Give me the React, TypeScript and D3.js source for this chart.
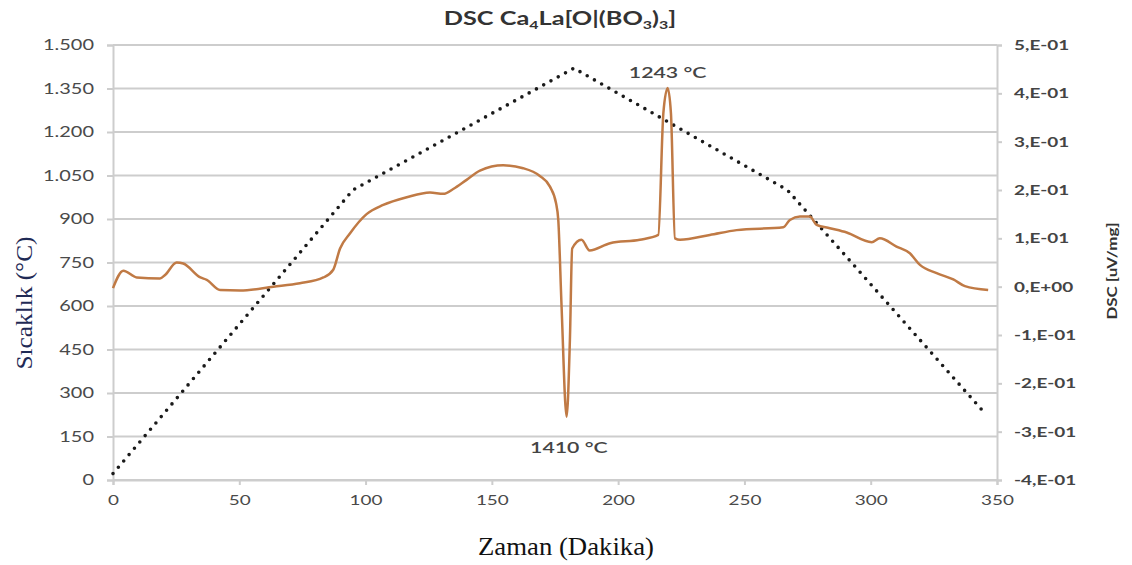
import React, { useEffect, useRef } from "react";
import * as d3 from "d3";

// time (min) and DSC signal (uV/mg)
const dscTime = [
  0, 4.1, 9.4, 18.6, 20.6, 25.2, 27.8, 34.6, 37.1, 42.4, 50.3, 63.5, 74, 83.3,
  87.2, 89.9, 93.8, 100.4, 107, 116.3, 125.5, 130.8, 134.7, 140, 145.3, 154.5,
  162.4, 169, 173, 175.4, 176.3, 177.6, 179.6, 180.9, 181.8, 185.5, 188.7,
  196.8, 208.6, 215.9, 217.9, 219.6, 220.9, 222.5, 224.5, 236.3, 246.9, 265.4,
  268, 272, 275.9, 278.6, 283.8, 290.5, 300.4, 303.6, 310.2, 315.5, 319.5,
  326.1, 332.7, 337.3, 346.5
];
const dscValue = [
  -0.003, 0.033, 0.019, 0.017, 0.024, 0.05, 0.048, 0.019, 0.014, -0.007, -0.008,
  0.0, 0.007, 0.019, 0.035, 0.079, 0.11, 0.15, 0.169, 0.185, 0.195, 0.192,
  0.202, 0.221, 0.24, 0.251, 0.245, 0.229, 0.207, 0.173, 0.138, -0.041, -0.269,
  -0.11, 0.079, 0.097, 0.075, 0.09, 0.097, 0.107, 0.359, 0.411, 0.359, 0.1,
  0.097, 0.107, 0.117, 0.123, 0.138, 0.145, 0.145, 0.128, 0.121, 0.112, 0.092,
  0.1, 0.083, 0.069, 0.045, 0.028, 0.015, 0.001, -0.007
];

// temperature program (dotted)
const tempTime = [0, 95, 182.5, 267, 345];
const tempValue = [22, 1000, 1420, 1000, 232];

const timeTicks = [0, 50, 100, 150, 200, 250, 300, 350];
const tempTicks = [0, 150, 300, 450, 600, 750, 900, 1050, 1200, 1350, 1500];
const dscTicks = [-0.4, -0.3, -0.2, -0.1, 0, 0.1, 0.2, 0.3, 0.4, 0.5];
const dscTickLabels = [
  "-4,E-01", "-3,E-01", "-2,E-01", "-1,E-01", "0,E+00",
  "1,E-01", "2,E-01", "3,E-01", "4,E-01", "5,E-01"
];

const peaks = [
  { label: "1243 °C", t: 219.6, v: 0.411, dy: -10 },
  { label: "1410 °C", t: 180.5, v: -0.269, dy: 36 }
];

const W = 1132;
const H = 565;
const margin = { left: 113, right: 135, top: 45, bottom: 85 };
const sans = "Lato, 'Open Sans', sans-serif";
const serif = "'Liberation Serif', 'DejaVu Serif', serif";

// the source picture is stretched sideways, so widen the glyphs
function stretch(sel: any, k: number) {
  sel.each(function (this: SVGTextElement) {
    const w = this.getComputedTextLength();
    this.setAttribute("textLength", String(w * k));
    this.setAttribute("lengthAdjust", "spacingAndGlyphs");
  });
}

export default function App() {
  const ref = useRef<SVGSVGElement>(null);

  useEffect(() => {
    document.body.style.margin = "0";
    const svg = d3.select(ref.current);
    svg.selectAll("*").remove();

    const x = d3.scaleLinear().domain([0, 350]).range([margin.left, W - margin.right]);
    const yT = d3.scaleLinear().domain([0, 1500]).range([H - margin.bottom, margin.top]);
    const yD = d3.scaleLinear().domain([-0.4, 0.5]).range([H - margin.bottom, margin.top]);
    const fmt = d3
      .formatLocale({ decimal: ",", thousands: ".", grouping: [3], currency: ["", ""] })
      .format(",");

    // gridlines
    svg.append("g")
      .selectAll("line")
      .data(tempTicks)
      .join("line")
      .attr("x1", margin.left)
      .attr("x2", W - margin.right)
      .attr("y1", (d) => yT(d))
      .attr("y2", (d) => yT(d))
      .attr("stroke", "#cdcdcd")
      .attr("stroke-width", 2);

    // left axis
    const left = svg.append("g")
      .attr("transform", `translate(${margin.left},0)`)
      .call(d3.axisLeft(yT).tickValues(tempTicks).tickFormat((d) => fmt(d as number)).tickSize(6).tickPadding(13));
    left.select(".domain").attr("stroke", "#cdcdcd").attr("stroke-width", 2);
    left.selectAll(".tick line").attr("stroke", "#cdcdcd").attr("stroke-width", 2);
    left.selectAll("text").attr("font-family", sans).attr("font-size", 15).attr("fill", "#4a4a4a");
    stretch(left.selectAll("text"), 1.33);

    // right axis
    const right = svg.append("g")
      .attr("transform", `translate(${W - margin.right},0)`)
      .call(d3.axisRight(yD).tickValues(dscTicks).tickFormat((d, i) => dscTickLabels[i]).tickSize(5).tickPadding(12));
    right.select(".domain").attr("stroke", "#cdcdcd").attr("stroke-width", 2);
    right.selectAll(".tick line").attr("stroke", "#cdcdcd").attr("stroke-width", 2);
    right.selectAll("text").attr("font-family", sans).attr("font-size", 14).attr("font-weight", 700).attr("fill", "#444");
    stretch(right.selectAll("text"), 1.35);

    // bottom axis
    const bottom = svg.append("g")
      .attr("transform", `translate(0,${H - margin.bottom})`)
      .call(d3.axisBottom(x).tickValues(timeTicks).tickSize(5).tickPadding(10));
    bottom.select(".domain").attr("stroke", "#cdcdcd").attr("stroke-width", 2);
    bottom.selectAll(".tick line").attr("stroke", "#cdcdcd").attr("stroke-width", 2);
    bottom.selectAll("text").attr("font-family", sans).attr("font-size", 14).attr("fill", "#4a4a4a");
    stretch(bottom.selectAll("text"), 1.35);

    // temperature program
    const tempLine = d3.line<number>().x((d, i) => x(tempTime[i])).y((d) => yT(d));
    svg.append("path")
      .attr("d", tempLine(tempValue))
      .attr("fill", "none")
      .attr("stroke", "#1a1a1a")
      .attr("stroke-width", 3.6)
      .attr("stroke-linecap", "round")
      .attr("stroke-dasharray", "0 8.3");

    // DSC curve
    const dscLine = d3.line<number>().x((d, i) => x(dscTime[i])).y((d) => yD(d)).curve(d3.curveMonotoneX);
    svg.append("path")
      .attr("d", dscLine(dscValue))
      .attr("fill", "none")
      .attr("stroke", "#c07a45")
      .attr("stroke-width", 2.5)
      .attr("stroke-linejoin", "round");

    // peak labels
    const peakText = svg.append("g")
      .selectAll("text")
      .data(peaks)
      .join("text")
      .attr("x", (d) => x(d.t))
      .attr("y", (d) => yD(d.v) + d.dy)
      .attr("text-anchor", "middle")
      .attr("font-family", sans)
      .attr("font-size", 16)
      .attr("font-weight", 600)
      .attr("fill", "#444")
      .text((d) => d.label);
    stretch(peakText, 1.33);

    // title
    const title = svg.append("text")
      .attr("x", 560)
      .attr("y", 25)
      .attr("text-anchor", "middle")
      .attr("font-family", sans)
      .attr("font-size", 19)
      .attr("font-weight", 700)
      .attr("fill", "#333");
    title.append("tspan").text("DSC Ca");
    title.append("tspan").attr("font-size", 12).attr("dy", 4).text("4");
    title.append("tspan").attr("dy", -4).text("La[O|(BO");
    title.append("tspan").attr("font-size", 12).attr("dy", 4).text("3");
    title.append("tspan").attr("dy", -4).text(")");
    title.append("tspan").attr("font-size", 12).attr("dy", 4).text("3");
    title.append("tspan").attr("dy", -4).text("]");
    stretch(title, 1.33);

    // axis titles
    svg.append("text")
      .attr("x", 566)
      .attr("y", 555)
      .attr("text-anchor", "middle")
      .attr("font-family", serif)
      .attr("font-size", 26)
      .attr("fill", "#111")
      .attr("textLength", 176)
      .attr("lengthAdjust", "spacingAndGlyphs")
      .text("Zaman (Dakika)");

    svg.append("text")
      .attr("transform", "translate(32,303) rotate(-90)")
      .attr("text-anchor", "middle")
      .attr("font-family", serif)
      .attr("font-size", 24)
      .attr("fill", "#1f2a55")
      .attr("textLength", 133)
      .attr("lengthAdjust", "spacingAndGlyphs")
      .text("Sıcaklık (°C)");

    const dscTitle = svg.append("text")
      .attr("transform", "translate(1117,271) rotate(-90)")
      .attr("text-anchor", "middle")
      .attr("font-family", sans)
      .attr("font-size", 13)
      .attr("font-weight", 700)
      .attr("fill", "#333")
      .text("DSC [uV/mg]");
    stretch(dscTitle, 1.3);
  }, []);

  return <svg ref={ref} width={W} height={H} style={{ display: "block", background: "#fff" }} />;
}
